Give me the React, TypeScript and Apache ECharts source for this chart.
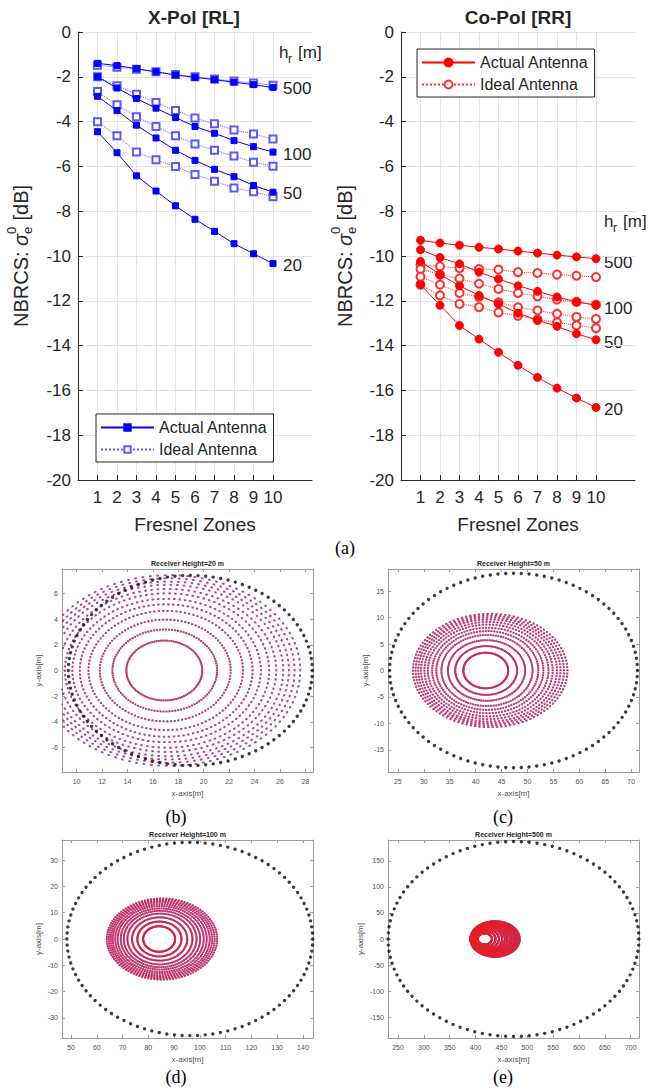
import React, { useEffect, useRef } from "react";
import * as echarts from "echarts";

const FONT = "'Liberation Sans', Arial, Helvetica, sans-serif";
const SERIF = "'Liberation Serif', 'Times New Roman', serif";
const TXT = "#262626";
const GRIDC = "#e4e4e4";

// ---------- (a) NBRCS vs Fresnel zones ----------
const fresnelZones = [1, 2, 3, 4, 5, 6, 7, 8, 9, 10];
const heightLabels = ["500", "100", "50", "20"];

const xpolActual500 = [-1.40, -1.50, -1.64, -1.78, -1.92, -2.02, -2.13, -2.24, -2.35, -2.48];
const xpolIdeal500 = [-1.48, -1.57, -1.66, -1.77, -1.90, -2.00, -2.10, -2.19, -2.28, -2.38];
const xpolActual100 = [-2.00, -2.50, -2.97, -3.40, -3.82, -4.22, -4.52, -4.85, -5.12, -5.36];
const xpolIdeal100 = [-2.00, -2.40, -2.78, -3.15, -3.51, -3.84, -4.10, -4.37, -4.55, -4.78];
const xpolActual50 = [-2.87, -3.51, -4.16, -4.73, -5.28, -5.73, -6.13, -6.46, -6.85, -7.15];
const xpolIdeal50 = [-2.66, -3.25, -3.78, -4.22, -4.63, -5.00, -5.28, -5.54, -5.81, -5.99];
const xpolActual20 = [-4.45, -5.39, -6.42, -7.10, -7.76, -8.36, -8.90, -9.45, -9.90, -10.34];
const xpolIdeal20 = [-4.01, -4.63, -5.36, -5.70, -6.01, -6.36, -6.66, -6.96, -7.13, -7.36];

const copolActual500 = [-9.30, -9.42, -9.52, -9.61, -9.69, -9.78, -9.87, -9.96, -10.04, -10.12];
const copolIdeal500 = [-10.39, -10.46, -10.54, -10.58, -10.61, -10.72, -10.76, -10.83, -10.88, -10.94];
const copolActual100 = [-9.72, -10.07, -10.35, -10.72, -11.03, -11.33, -11.58, -11.83, -12.05, -12.20];
const copolIdeal100 = [-10.58, -10.83, -11.01, -11.24, -11.47, -11.65, -11.80, -11.95, -12.05, -12.17];
const copolActual50 = [-10.24, -10.83, -11.33, -11.76, -12.14, -12.55, -12.87, -13.14, -13.47, -13.74];
const copolIdeal50 = [-10.93, -11.28, -11.65, -11.83, -12.07, -12.29, -12.43, -12.58, -12.72, -12.81];
const copolActual20 = [-11.28, -12.20, -13.10, -13.71, -14.30, -14.88, -15.42, -15.90, -16.34, -16.76];
const copolIdeal20 = [-11.28, -11.76, -12.14, -12.28, -12.52, -12.67, -12.84, -12.96, -13.10, -13.22];

const xpolActual = [xpolActual500, xpolActual100, xpolActual50, xpolActual20];
const xpolIdeal = [xpolIdeal500, xpolIdeal100, xpolIdeal50, xpolIdeal20];
const copolActual = [copolActual500, copolActual100, copolActual50, copolActual20];
const copolIdeal = [copolIdeal500, copolIdeal100, copolIdeal50, copolIdeal20];

const yTicksTop = { min: -20, max: 0, interval: 2 };

// ---------- (b)-(e) Fresnel zone footprints ----------
const panelTitles = ["Receiver Height=20 m", "Receiver Height=50 m", "Receiver Height=100 m", "Receiver Height=500 m"];
const panelXMin = [8.85, 23.1, 46.5, 230.6];
const panelXMax = [28.6, 71.5, 143.9, 716];
const panelYMin = [-7.9, -19.2, -37.6, -190];
const panelYMax = [7.9, 19.2, 37.6, 190];
const panelXTicks = [
  [10, 12, 14, 16, 18, 20, 22, 24, 26, 28],
  [25, 30, 35, 40, 45, 50, 55, 60, 65, 70],
  [50, 60, 70, 80, 90, 100, 110, 120, 130, 140],
  [250, 300, 350, 400, 450, 500, 550, 600, 650, 700],
];
const panelYTicks = [
  [-6, -4, -2, 0, 2, 4, 6],
  [-15, -10, -5, 0, 5, 10, 15],
  [-30, -20, -10, 0, 10, 20, 30],
  [-150, -100, -50, 0, 50, 100, 150],
];
// illuminated area boundary (black dots)
const fieldCx = [18.95, 47.3, 96.1, 473.3];
const fieldA = [9.6, 23.9, 47.7, 242.5];
const fieldB = [7.4, 18.4, 36.7, 187];
const fieldPoints = 100;
// Fresnel zone rings (red / blue dots)
const zoneInnerCx = [16.9, 41.95, 84.2, 417.7];
const zoneOuterCx = [17.3, 42.8, 85.3, 437.7];
const zoneOuterA = [10.3, 14.9, 21.4, 47.7];
const ringProfile = [0.29, 0.40, 0.50, 0.59, 0.66, 0.72, 0.78, 0.83, 0.88, 0.92, 0.96, 1.0];
const ringAspect = [0.78, 0.72];
const ringPoints = 110;

function ellipsePoints(cx: number, a: number, b: number, n: number, phase: number) {
  const pts: number[][] = [];
  for (let j = 0; j < n; j++) {
    const t = (2 * Math.PI * (j + phase)) / n;
    pts.push([cx + a * Math.cos(t), b * Math.sin(t)]);
  }
  return pts;
}

function ringData(p: number, phase: number) {
  const out: number[][] = [];
  const last = ringProfile.length - 1;
  ringProfile.forEach((r, k) => {
    const f = k / last;
    const a = r * zoneOuterA[p];
    const cx = zoneInnerCx[p] + (zoneOuterCx[p] - zoneInnerCx[p]) * f;
    const asp = ringAspect[0] + (ringAspect[1] - ringAspect[0]) * f;
    out.push(...ellipsePoints(cx, a, a * asp, ringPoints, phase));
  });
  return out;
}

function txt(x: number, y: number, text: string, size: number, opts: any = {}) {
  return {
    type: "text",
    x,
    y,
    silent: true,
    style: {
      text,
      fontSize: size,
      fontFamily: opts.family || FONT,
      fontWeight: opts.weight || "normal",
      fontStyle: opts.style || "normal",
      fill: opts.color || TXT,
      textAlign: opts.align || "left",
      align: opts.align || "left",
      textVerticalAlign: "middle",
      verticalAlign: "middle",
    },
  };
}

function sigmaLabel(cx: number, cy: number) {
  return {
    type: "group",
    x: cx,
    y: cy,
    rotation: Math.PI / 2,
    silent: true,
    children: [
      txt(-71, 0, "NBRCS: ", 20),
      txt(10, 0, "σ", 20, { style: "italic" }),
      txt(22, -10, "0", 13),
      txt(22, 6, "e", 13),
      txt(30, 0, " [dB]", 20),
    ],
  };
}

function hrLabel(x: number, y: number) {
  return [txt(x, y, "h", 17), txt(x + 9, y + 7, "r", 12), txt(x + 19, y, "[m]", 17)];
}

function buildOption() {
  const grids: any[] = [
    { left: 78, top: 32, width: 234, height: 448 },
    { left: 401, top: 32, width: 234, height: 448 },
    { left: 62, top: 569, width: 251, height: 203 },
    { left: 388, top: 569, width: 251, height: 203 },
    { left: 62, top: 840, width: 251, height: 198 },
    { left: 388, top: 840, width: 251, height: 198 },
  ].map((g) => ({ ...g, containLabel: false, outerBoundsMode: "none", show: false }));

  const xAxis: any[] = [];
  const yAxis: any[] = [];
  for (let i = 0; i < 2; i++) {
    xAxis.push({
      gridIndex: i,
      type: "value",
      min: 0,
      max: 12,
      axisLine: { show: true, onZero: false, lineStyle: { color: TXT, width: 1 } },
      axisTick: { show: true, inside: true, length: 5, customValues: fresnelZones, lineStyle: { color: TXT } },
      axisLabel: { show: true, customValues: fresnelZones, fontSize: 17, color: TXT, fontFamily: FONT, margin: 9 },
      splitLine: { show: true, lineStyle: { color: GRIDC, width: 1 } },
      name: "Fresnel Zones",
      nameLocation: "middle",
      nameGap: 35,
      nameTextStyle: { fontSize: 19, color: TXT, fontFamily: FONT },
    });
    yAxis.push({
      gridIndex: i,
      type: "value",
      min: yTicksTop.min,
      max: yTicksTop.max,
      interval: yTicksTop.interval,
      axisLine: { show: true, onZero: false, lineStyle: { color: TXT, width: 1 } },
      axisTick: { show: true, inside: true, length: 5, lineStyle: { color: TXT } },
      axisLabel: { show: true, fontSize: 17, color: TXT, fontFamily: FONT, margin: 7 },
      splitLine: { show: true, lineStyle: { color: GRIDC, width: 1 } },
    });
  }
  const BOX = "#9d9d9d";
  const LBL = "#505050";
  const yNameGap = [20, 17, 20, 24];
  for (let p = 0; p < 4; p++) {
    const g = p + 2;
    const common = (ticks: number[]) => ({
      axisLine: { show: true, onZero: false, lineStyle: { color: BOX, width: 1 } },
      axisTick: { show: true, inside: true, length: 3, customValues: ticks, lineStyle: { color: BOX } },
      splitLine: { show: false },
    });
    xAxis.push({
      gridIndex: g, type: "value", min: panelXMin[p], max: panelXMax[p], position: "bottom",
      ...common(panelXTicks[p]),
      axisLabel: { show: true, customValues: panelXTicks[p], fontSize: 7, color: LBL, fontFamily: FONT, margin: 6 },
      name: "x-axis[m]", nameLocation: "middle", nameGap: 17,
      nameTextStyle: { fontSize: 8, color: LBL, fontFamily: FONT },
    });
    yAxis.push({
      gridIndex: g, type: "value", min: panelYMin[p], max: panelYMax[p], position: "left",
      ...common(panelYTicks[p]),
      axisLabel: { show: true, customValues: panelYTicks[p], fontSize: 7, color: LBL, fontFamily: FONT, margin: 4 },
      name: "y-axis[m]", nameLocation: "middle", nameGap: yNameGap[p],
      nameTextStyle: { fontSize: 8, color: LBL, fontFamily: FONT },
    });
  }
  for (let p = 0; p < 4; p++) {
    const g = p + 2;
    xAxis.push({
      gridIndex: g, type: "value", min: panelXMin[p], max: panelXMax[p], position: "top",
      axisLine: { show: true, onZero: false, lineStyle: { color: BOX, width: 1 } },
      axisTick: { show: true, inside: true, length: 3, customValues: panelXTicks[p], lineStyle: { color: BOX } },
      axisLabel: { show: false }, splitLine: { show: false },
    });
    yAxis.push({
      gridIndex: g, type: "value", min: panelYMin[p], max: panelYMax[p], position: "right",
      axisLine: { show: true, onZero: false, lineStyle: { color: BOX, width: 1 } },
      axisTick: { show: true, inside: true, length: 3, customValues: panelYTicks[p], lineStyle: { color: BOX } },
      axisLabel: { show: false }, splitLine: { show: false },
    });
  }

  const series: any[] = [];
  const addLines = (
    groups: number[][], axis: number, prefix: string, color: string, actual: boolean,
    symbol: string, size: number
  ) => {
    groups.forEach((vals, i) => {
      series.push({
        type: "line",
        name: i === 0 ? prefix : `${prefix}-${heightLabels[i]}`,
        xAxisIndex: axis,
        yAxisIndex: axis,
        data: fresnelZones.map((f, k) => [f, vals[k]]),
        symbol,
        symbolSize: size,
        showSymbol: true,
        silent: true,
        z: actual ? 4 : 3,
        lineStyle: { color, width: 1, type: actual ? "solid" : "dotted" },
        itemStyle: { color, borderColor: color, borderWidth: 1 },
        emphasis: { disabled: true },
      });
    });
  };
  addLines(xpolIdeal, 0, "X-Ideal", "#5a5aff", false, "emptyRect", 7);
  addLines(xpolActual, 0, "X-Actual", "#0000ff", true, "rect", 6);
  addLines(copolIdeal, 1, "C-Ideal", "#ff3030", false, "emptyCircle", 8);
  addLines(copolActual, 1, "C-Actual", "#ff0000", true, "circle", 8);

  for (let p = 0; p < 4; p++) {
    const xi = p + 2;
    series.push({
      type: "scatter", xAxisIndex: xi, yAxisIndex: xi, silent: true, clip: true, z: 2,
      symbol: "rect", symbolSize: 1.8, itemStyle: { color: "#4a4aff" },
      data: ringData(p, 0.14),
    });
    series.push({
      type: "scatter", xAxisIndex: xi, yAxisIndex: xi, silent: true, clip: true, z: 3,
      symbol: "rect", symbolSize: 1.8, itemStyle: { color: "#e81e24" },
      data: ringData(p, 0),
    });
    series.push({
      type: "scatter", xAxisIndex: xi, yAxisIndex: xi, silent: true, clip: true, z: 4,
      symbol: "circle", symbolSize: 3.4, itemStyle: { color: "#0a0a0a" },
      data: ellipsePoints(fieldCx[p], fieldA[p], fieldB[p], fieldPoints, 0),
    });
  }

  const legendBase = {
    orient: "vertical",
    backgroundColor: "#ffffff",
    borderColor: TXT,
    borderWidth: 1,
    borderRadius: 0,
    padding: [5, 6, 4, 4],
    itemGap: 5,
    itemWidth: 53,
    selectedMode: false,
    textStyle: { fontSize: 16, color: TXT, fontFamily: FONT, lineHeight: 17 },
    formatter: (n: string) => (n.indexOf("Actual") >= 0 ? "Actual Antenna" : "Ideal Antenna"),
  };
  const legend = [
    { ...legendBase, left: 96, top: 414, itemHeight: 8, data: ["X-Actual", "X-Ideal"] },
    { ...legendBase, left: 417, top: 49, itemHeight: 10, data: ["C-Actual", "C-Ideal"] },
  ];

  const xLabelY = [88, 154, 193, 265];
  const cLabelY = [262, 308, 342, 409];
  const graphic: any[] = [
    txt(194, 17, "X-Pol [RL]", 19, { weight: "bold", align: "center" }),
    txt(518, 17, "Co-Pol [RR]", 19, { weight: "bold", align: "center" }),
    sigmaLabel(21, 256),
    sigmaLabel(345, 256),
    ...hrLabel(279, 52),
    ...hrLabel(604, 221),
    ...heightLabels.map((h, i) => txt(283, xLabelY[i], h, 17)),
    ...heightLabels.map((h, i) => txt(604, cLabelY[i], h, 17)),
    txt(345, 548, "(a)", 18, { family: SERIF, color: "#000", align: "center" }),
    txt(176, 817, "(b)", 18, { family: SERIF, color: "#000", align: "center" }),
    txt(503, 817, "(c)", 18, { family: SERIF, color: "#000", align: "center" }),
    txt(176, 1077, "(d)", 18, { family: SERIF, color: "#000", align: "center" }),
    txt(503, 1077, "(e)", 18, { family: SERIF, color: "#000", align: "center" }),
    txt(187.5, 563, panelTitles[0], 7, { weight: "bold", align: "center" }),
    txt(513.5, 563, panelTitles[1], 7, { weight: "bold", align: "center" }),
    txt(187.5, 834, panelTitles[2], 7, { weight: "bold", align: "center" }),
    txt(513.5, 834, panelTitles[3], 7, { weight: "bold", align: "center" }),
  ];

  return {
    animation: false,
    backgroundColor: "#ffffff",
    textStyle: { fontFamily: FONT },
    grid: grids,
    xAxis,
    yAxis,
    legend,
    series,
    graphic,
  };
}

export default function App() {
  const ref = useRef<HTMLDivElement>(null);
  useEffect(() => {
    if (!ref.current) return;
    const chart = echarts.init(ref.current, null, { renderer: "svg" });
    chart.setOption(buildOption() as any);
    return () => chart.dispose();
  }, []);
  return (
    <div
      ref={ref}
      style={{ position: "absolute", left: 0, top: 0, width: 648, height: 1091, background: "#fff" }}
    />
  );
}
